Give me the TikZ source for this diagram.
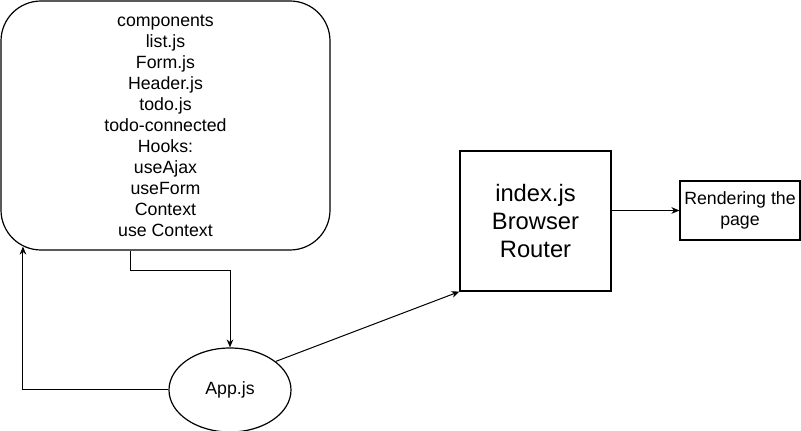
\documentclass[tikz,border=0pt]{standalone}
\usepackage{fontspec}
\setmainfont{Liberation Sans}
\usetikzlibrary{arrows.meta, shapes.geometric}

\tikzset{
  txt/.style={font=\fontsize{13.3}{15.75}\selectfont, align=center, inner sep=0.75pt},
  shp/.style={draw, line width=0.9pt, inner sep=0pt},
  conn/.style={line width=0.75pt, -{Stealth[length=6pt,width=5pt]}}
}

\begin{document}
\begin{tikzpicture}[x=0.75pt,y=0.75pt,yscale=-1,xscale=1]
        \useasboundingbox (0,0) rectangle (801,431);

        %Shape: Rounded Rect [id:comp]
        \node [shp, txt, rounded corners=30pt, minimum width=246.75pt, minimum height=186.75pt] (comp) at (165.5,125.5)
          {components\\list.js\\Form.js\\Header.js\\todo.js\\todo-connected\\Hooks:\\useAjax\\useForm\\Context\\use Context};
        %Shape: Ellipse [id:app]
        \node [shp, txt, ellipse, minimum width=91.5pt, minimum height=63pt] (app) at (230,390) {App.js};
        %Shape: Rectangle [id:index]
        \node [shp, txt, font=\fontsize{17.8}{20.8}\selectfont, minimum width=113.25pt, minimum height=105pt] (index) at (535.5,221) {index.js\\Browser\\Router};
        %Shape: Rectangle [id:render]
        \node [shp, txt, minimum width=90pt, minimum height=44.25pt] (render) at (740,210.5) {Rendering the\\page};

        % Connectors
        \draw [conn] ([xshift=-26.6pt]comp.south) -- ++(0,20) -| (app.north);
        \draw [conn] (app.west) -| ([xshift=-106.9pt,yshift=-3pt]comp.south);
        \draw [conn] (app.32) -- (index.south west);
        \draw [conn] (index.east |- render.west) -- (render.west);

\end{tikzpicture}
\end{document}
